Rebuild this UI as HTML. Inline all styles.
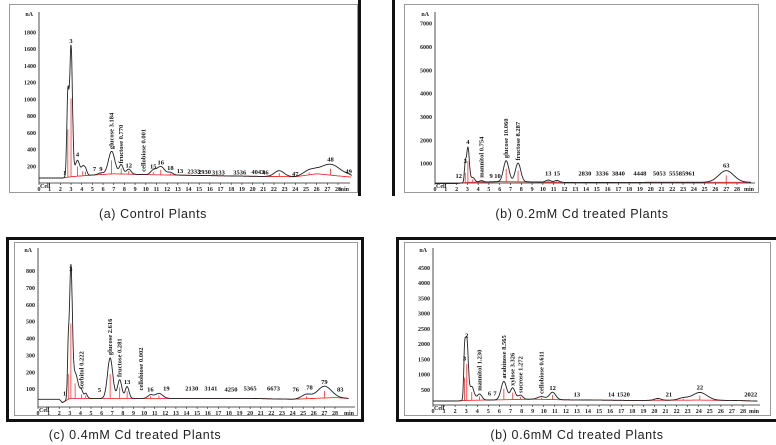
<!DOCTYPE html>
<html><head><meta charset="utf-8">
<style>
html,body{margin:0;padding:0;background:#fff;}
svg{display:block;font-family:"Liberation Serif",serif;}
.cap{font-family:"Liberation Sans",sans-serif;font-size:12.5px;fill:#222;letter-spacing:0.6px;}
.tk{font-size:6px;font-weight:bold;fill:#222;}
.lb{font-size:6.5px;font-weight:bold;fill:#111;}
</style></head>
<body>
<svg id="chart" width="776" height="445" viewBox="0 0 776 445">
 <rect x="9.5" y="4.5" width="348" height="188" fill="none" stroke="#999"/>
 <rect x="358" y="0" width="3" height="196" fill="#111"/>
 <rect x="392" y="0" width="3" height="196" fill="#111"/>
 <rect x="404.5" y="4.5" width="354" height="188" fill="none" stroke="#999"/>
 <rect x="7.5" y="238.5" width="355" height="182" fill="none" stroke="#111" stroke-width="3"/>
 <rect x="14.5" y="242.5" width="343" height="173" fill="none" stroke="#999"/>
 <rect x="397.5" y="238.5" width="382" height="182" fill="none" stroke="#111" stroke-width="3"/>
 <rect x="404.5" y="242.5" width="366" height="173" fill="none" stroke="#999"/>
 <text class="cap" x="153" y="218" text-anchor="middle">(a) Control Plants</text>
 <text class="cap" x="582" y="218" text-anchor="middle">(b) 0.2mM Cd treated Plants</text>
 <text class="cap" x="135" y="439" text-anchor="middle">(c) 0.4mM Cd treated Plants</text>
 <text class="cap" x="577" y="439" text-anchor="middle">(b) 0.6mM Cd treated Plants</text>
</svg>
<script>
// ---- data (retention time in min, signal in nA) ----
const peaksA_t = [2.7, 3.0, 3.6, 4.1, 4.35, 5.8, 6.8, 7.7, 8.4, 10.7, 11.4, 12.3, 22.5, 25.3, 27.3, 29.0];
const peaksA_h = [950, 1560, 190, 90, 80, 20, 270, 110, 60, 50, 100, 30, 70, 50, 130, 10];
const peaksA_w = [0.1, 0.13, 0.22, 0.14, 0.14, 0.25, 0.3, 0.18, 0.22, 0.25, 0.35, 0.25, 0.45, 0.55, 0.95, 0.3];
const baseA_t = [0, 2.2, 3, 5, 7, 10, 15, 20, 24, 26, 28, 29.3];
const baseA_v = [60, 60, 75, 95, 110, 100, 90, 80, 75, 110, 85, 70];
const ticksA = [200, 400, 600, 800, 1000, 1200, 1400, 1600, 1800];
const labelsA = [["3",3.0,1650],["4",3.6,290],["glucose 3.184",6.8,380],["fructose 0.770",7.7,210],["12",8.4,160],["cellobiose 0.001",9.8,110],["15",10.7,150],["16",11.4,200],["18",12.3,130],["47",24,60],["48",27.3,230],["49",29,90],["1",2.4,70],["7",5.2,120],["9",5.8,120],["13",13.2,95],["2333",14.5,90],["2930",15.5,85],["3133",16.8,80],["3536",18.8,80],["4043",20.5,85],["46",21.2,80]];

const peaksB_t = [2.8, 3.05, 3.5, 4.3, 6.6, 7.7, 10.5, 11.3, 27.0];
const peaksB_h = [700, 1500, 200, 60, 900, 800, 90, 80, 500];
const peaksB_w = [0.08, 0.13, 0.18, 0.18, 0.25, 0.25, 0.22, 0.22, 0.7];
const baseB_t = [0, 2, 3, 6, 9, 13, 20, 29.3];
const baseB_v = [150, 150, 200, 230, 220, 190, 200, 200];
const ticksB = [1000, 2000, 3000, 4000, 5000, 6000, 7000];
const labelsB = [["4",3.05,1750],["3",2.8,950],["12",2.2,300],["mannitol 0.754",4.3,310],["glucose 10.060",6.6,1150],["fructose 8.287",7.7,1050],["13",10.5,400],["15",11.3,400],["63",27,760],["9",5.2,300],["10",5.8,300],["2830",13.9,400],["3336",15.5,400],["3840",17,400],["4448",19,400],["5053",20.8,400],["5558",22.3,400],["5961",23.5,400]];

const peaksC_t = [2.85, 3.1, 3.5, 4.1, 4.5, 6.8, 7.7, 8.4, 10.6, 11.4, 25.3, 27.0];
const peaksC_h = [250, 740, 150, 40, 30, 240, 110, 70, 20, 30, 25, 70];
const peaksC_w = [0.08, 0.13, 0.28, 0.14, 0.14, 0.25, 0.2, 0.18, 0.25, 0.35, 0.45, 0.65];
const baseC_t = [0, 2.0, 2.3, 3, 6, 10, 15, 20, 24, 28, 29.3];
const baseC_v = [40, 40, 20, 45, 45, 45, 45, 45, 40, 50, 45];
const ticksC = [100, 200, 300, 400, 500, 600, 700, 800];
const labelsC = [["3",3.1,790],["glucose 2.616",6.8,290],["fructose 0.281",7.7,160],["13",8.4,120],["cellobiose 0.002",9.7,80],["16",10.6,75],["79",27,120],["1",2.5,50],["5",5.8,70],["sorbitol 0.222",4.1,90],["19",12.1,80],["2130",14.5,80],["3141",16.3,80],["4250",18.2,75],["5365",20,80],["6673",22.2,80],["76",24.3,75],["78",25.6,85],["83",28.5,75]];

const peaksD_t = [2.85, 3.05, 3.5, 4.2, 6.4, 7.2, 7.9, 9.8, 10.8, 20.3, 22.6, 24.1];
const peaksD_h = [1250, 2000, 450, 200, 600, 380, 140, 90, 240, 60, 70, 250];
const peaksD_w = [0.08, 0.13, 0.2, 0.22, 0.25, 0.22, 0.22, 0.35, 0.28, 0.3, 0.45, 0.65];
const baseD_t = [0, 2, 3, 6, 9, 12, 18, 24, 27, 29.3];
const baseD_v = [130, 130, 150, 170, 190, 170, 150, 160, 150, 130];
const ticksD = [500, 1000, 1500, 2000, 2500, 3000, 3500, 4000, 4500];
const labelsD = [["3",2.85,1400],["2",3.05,2150],["mannitol 1.230",4.2,400],["arabinose 8.565",6.4,800],["xylose 3.326",7.2,560],["sucrose 1.272",7.9,330],["cellobiose 0.611",9.8,300],["12",10.8,420],["13",13,220],["21",21.3,220],["22",24.1,440],["6",5.1,250],["7",5.6,250],["14",16.1,220],["1520",17.2,220],["2022",28.7,220]];

const NS = "http://www.w3.org/2000/svg";
const svg = document.getElementById('chart');
function el(tag, attrs, parent) {
  const e = document.createElementNS(NS, tag);
  for (const k in attrs) e.setAttribute(k, attrs[k]);
  (parent || svg).appendChild(e);
  return e;
}
function interp(ts, vs, t) {
  if (t <= ts[0]) return vs[0];
  for (let i = 1; i < ts.length; i++) if (t <= ts[i]) {
    const f = (t - ts[i-1]) / (ts[i] - ts[i-1]); return vs[i-1] + f*(vs[i]-vs[i-1]);
  }
  return vs[vs.length-1];
}
function drawPanel(name, g, pt, ph, pw, bt, bv, ticks, labels) {
  const grp = el('g', {});
  
  
  const xs = t => g.x0 + (t / 28) * (g.x28 - g.x0);
  const ys = v => g.y0 - v * g.k;
  const ax = el('path', {d:`M${g.x0} ${g.top} V${g.axY} H${g.right}`, stroke:'#222', 'stroke-width':0.8, fill:'none'}, grp);
  
  
  const nA = el('text', {x:g.x0-6, y:g.top+4, class:'tk', 'text-anchor':'end'}, grp); nA.textContent = 'nA';
  
  
  ticks.forEach(v => {
    const t = el('text', {x:g.x0-3, y:ys(v)+2, class:'tk', 'text-anchor':'end'}, grp); t.textContent = v;
    
    
  });
  for (let m = 0; m <= 28; m++) {
    el('line', {x1:xs(m), x2:xs(m), y1:g.axY, y2:g.axY+2, stroke:'#222', 'stroke-width':0.6}, grp);
    const t = el('text', {x:xs(m), y:g.axY+8, class:'tk', 'text-anchor':'middle'}, grp); t.textContent = m;
    
    
  }
  const mn = el('text', {x:g.right-1, y:g.axY+8, class:'tk', 'text-anchor':'end'}, grp); mn.textContent = 'min';
  
  
  const ce = el('text', {x:g.x0+1, y:g.axY+5, class:'tk'}, grp); ce.textContent = 'Cell';
  
  
  let bd = '';
  for (let t = 2.2; t <= 29.3; t += 0.1) bd += (bd ? 'L' : 'M') + xs(t).toFixed(1) + ' ' + ys(interp(bt, bv, t)).toFixed(1);
  const bl = el('path', {d:bd, stroke:'#e33', 'stroke-width':0.9, fill:'none'}, grp);
  
  
  pt.forEach((t, i) => {
    const l = el('line', {x1:xs(t), x2:xs(t), y1:ys(interp(bt, bv, t)), y2:ys(interp(bt, bv, t) + ph[i]*0.6), stroke:'#e33', 'stroke-width':0.8}, grp);
    
    
  });
  let d = '';
  for (let t = 0; t <= 29.3; t += 0.02) {
    let v = interp(bt, bv, t);
    for (let i = 0; i < pt.length; i++) v += ph[i] * Math.exp(-0.5 * Math.pow((t - pt[i]) / pw[i], 2));
    d += (d ? 'L' : 'M') + xs(t).toFixed(1) + ' ' + ys(v).toFixed(1);
  }
  const tr = el('path', {d:d, stroke:'#222', 'stroke-width':0.9, fill:'none'}, grp);
  
  
  labels.forEach(([txt, t, v]) => {
    const x = xs(t), y = ys(v) - 2;
    const lt = el('text', {x:x+2, y:y, class:'lb'}, grp);
    lt.textContent = txt;
    if (txt.length > 4) lt.setAttribute('transform', `rotate(-90 ${x+2} ${y})`);
    else { lt.setAttribute('x', x); lt.setAttribute('text-anchor', 'middle'); }
    
    
  });
}
drawPanel('panel-a', {x0:39, x28:338, y0:183, k:0.08375, top:12, axY:183, right:350}, peaksA_t, peaksA_h, peaksA_w, baseA_t, baseA_v, ticksA, labelsA);
drawPanel('panel-b', {x0:435, x28:737, y0:187, k:0.02333, top:12, axY:183, right:755}, peaksB_t, peaksB_h, peaksB_w, baseB_t, baseB_v, ticksB, labelsB);
drawPanel('panel-c', {x0:38, x28:335, y0:406, k:0.1686, top:248, axY:407, right:355}, peaksC_t, peaksC_h, peaksC_w, baseC_t, baseC_v, ticksC, labelsC);
drawPanel('panel-d', {x0:433, x28:743, y0:405, k:0.0305, top:248, axY:405, right:760}, peaksD_t, peaksD_h, peaksD_w, baseD_t, baseD_v, ticksD, labelsD);
</script>
</body></html>
